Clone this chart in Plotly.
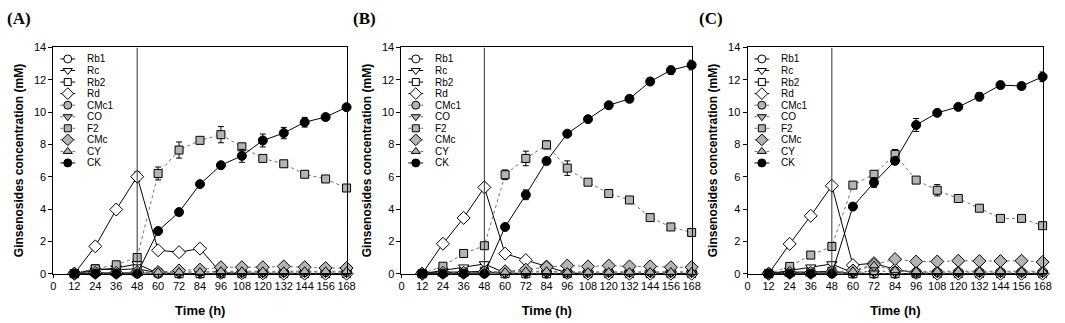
import plotly.graph_objects as go

# ---------------- data ----------------
time_h = [12, 24, 36, 48, 60, 72, 84, 96, 108, 120, 132, 144, 156, 168]
series_names = ["Rb1", "Rc", "Rb2", "Rd", "CMc1", "CO", "F2", "CMc", "CY", "CK"]
panel_labels = ["(A)", "(B)", "(C)"]
x_ticks = [0, 12, 24, 36, 48, 60, 72, 84, 96, 108, 120, 132, 144, 156, 168]
y_ticks = [0, 2, 4, 6, 8, 10, 12, 14]
switch_time = 48

# Panel A
A_Rb1 = [0, 0.05, 0.05, 0.05, 0, 0, 0, 0, 0, 0, 0, 0, 0, 0]
A_Rc = [0, 0.2, 0.35, 0.6, 0.02, 0, 0, 0, 0, 0, 0, 0, 0, 0]
A_Rb2 = [0, 0.3, 0.25, 0.3, 0.05, 0, 0, 0, 0, 0, 0, 0, 0, 0]
A_Rd = [0, 1.69, 3.97, 6.0, 1.45, 1.33, 1.55, 0.05, 0.03, 0.02, 0, 0, 0, 0]
A_CMc1 = [0, 0.05, 0.05, 0.05, 0.1, 0.1, 0.1, 0.1, 0.1, 0.1, 0.1, 0.1, 0.1, 0.1]
A_CO = [0, 0, 0, 0, 0.02, 0.03, 0.03, 0.03, 0.03, 0.03, 0.03, 0.03, 0.03, 0.03]
A_F2 = [0, 0.3, 0.55, 1.0, 6.2, 7.65, 8.25, 8.6, 7.85, 7.13, 6.8, 6.15, 5.86, 5.3]
A_CMc = [0, 0.05, 0.05, 0.1, 0.1, 0.2, 0.25, 0.4, 0.4, 0.4, 0.45, 0.4, 0.35, 0.35]
A_CY = [0, 0.02, 0.02, 0.02, 0.1, 0.1, 0.1, 0.15, 0.15, 0.15, 0.15, 0.15, 0.15, 0.15]
A_CK = [0, 0, 0, 0, 2.64, 3.81, 5.54, 6.71, 7.29, 8.24, 8.7, 9.37, 9.69, 10.3]
A_Rd_err = [0, 0, 0, 0.3, 0, 0, 0, 0, 0, 0, 0, 0, 0, 0]
A_F2_err = [0, 0, 0, 0.2, 0.4, 0.5, 0.1, 0.5, 0.2, 0.1, 0.2, 0.2, 0.2, 0.1]
A_CK_err = [0, 0, 0, 0, 0.1, 0.1, 0.1, 0.1, 0.4, 0.4, 0.35, 0.3, 0.1, 0.1]

# Panel B
B_Rb1 = [0, 0.05, 0.05, 0.05, 0, 0, 0, 0, 0, 0, 0, 0, 0, 0]
B_Rc = [0, 0.2, 0.4, 0.6, 0.05, 0, 0, 0, 0, 0, 0, 0, 0, 0]
B_Rb2 = [0, 0.1, 0.1, 0.15, 0, 0, 0, 0, 0, 0, 0, 0, 0, 0]
B_Rd = [0, 1.85, 3.45, 5.34, 1.24, 0.84, 0.44, 0.05, 0, 0, 0, 0, 0, 0]
B_CMc1 = [0, 0.05, 0.05, 0.05, 0.1, 0.1, 0.1, 0.1, 0.1, 0.1, 0.1, 0.1, 0.1, 0.1]
B_CO = [0, 0, 0, 0, 0.02, 0.03, 0.03, 0.03, 0.03, 0.03, 0.03, 0.03, 0.03, 0.03]
B_F2 = [0, 0.46, 1.25, 1.73, 6.12, 7.13, 7.97, 6.53, 5.66, 4.96, 4.56, 3.47, 2.89, 2.55]
B_CMc = [0, 0.05, 0.05, 0.1, 0.15, 0.25, 0.4, 0.5, 0.45, 0.5, 0.45, 0.45, 0.4, 0.4]
B_CY = [0, 0, 0, 0.05, 0.1, 0.15, 0.15, 0.1, 0.1, 0.1, 0.1, 0.1, 0.1, 0.1]
B_CK = [0, 0, 0, 0, 2.89, 4.88, 6.97, 8.66, 9.56, 10.42, 10.82, 11.89, 12.59, 12.91]
B_Rd_err = [0, 0, 0, 0.2, 0, 0, 0, 0, 0, 0, 0, 0, 0, 0]
B_F2_err = [0, 0, 0, 0.1, 0.3, 0.45, 0.25, 0.45, 0.2, 0.1, 0.15, 0.1, 0.1, 0.1]
B_CK_err = [0, 0, 0, 0, 0.1, 0.3, 0.1, 0.1, 0.1, 0.1, 0.2, 0.2, 0.25, 0.3]

# Panel C
C_Rb1 = [0, 0.05, 0.05, 0.05, 0, 0, 0, 0, 0, 0, 0, 0, 0, 0]
C_Rc = [0, 0.2, 0.4, 0.6, 0.05, 0, 0, 0, 0, 0, 0, 0, 0, 0]
C_Rb2 = [0, 0.1, 0.1, 0.15, 0, 0, 0, 0, 0, 0, 0, 0, 0, 0]
C_Rd = [0, 1.84, 3.58, 5.44, 0.53, 0.65, 0.26, 0.05, 0, 0, 0, 0, 0, 0]
C_CMc1 = [0, 0.05, 0.05, 0.05, 0.1, 0.15, 0.15, 0.1, 0.1, 0.1, 0.1, 0.1, 0.1, 0.1]
C_CO = [0, 0, 0, 0, 0.02, 0.03, 0.03, 0.03, 0.03, 0.03, 0.03, 0.03, 0.03, 0.03]
C_F2 = [0, 0.45, 1.15, 1.68, 5.48, 6.15, 7.38, 5.79, 5.16, 4.65, 4.05, 3.42, 3.42, 2.97]
C_CMc = [0, 0.05, 0.05, 0.1, 0.2, 0.55, 0.9, 0.75, 0.75, 0.8, 0.78, 0.78, 0.8, 0.72]
C_CY = [0, 0, 0, 0.05, 0.15, 0.5, 0.2, 0.15, 0.15, 0.15, 0.15, 0.15, 0.15, 0.15]
C_CK = [0, 0, 0, 0, 4.15, 5.64, 6.98, 9.2, 9.95, 10.32, 10.95, 11.67, 11.61, 12.18]
C_Rd_err = [0, 0, 0, 0.15, 0, 0, 0, 0, 0, 0, 0, 0, 0, 0]
C_F2_err = [0, 0, 0, 0.1, 0.1, 0.2, 0.3, 0.1, 0.35, 0.1, 0.1, 0.1, 0.1, 0.1]
C_CK_err = [0, 0, 0, 0, 0.1, 0.3, 0.1, 0.4, 0.15, 0.15, 0.25, 0.2, 0.2, 0.3]

panels = [
    {"Rb1": A_Rb1, "Rc": A_Rc, "Rb2": A_Rb2, "Rd": A_Rd, "CMc1": A_CMc1, "CO": A_CO,
     "F2": A_F2, "CMc": A_CMc, "CY": A_CY, "CK": A_CK},
    {"Rb1": B_Rb1, "Rc": B_Rc, "Rb2": B_Rb2, "Rd": B_Rd, "CMc1": B_CMc1, "CO": B_CO,
     "F2": B_F2, "CMc": B_CMc, "CY": B_CY, "CK": B_CK},
    {"Rb1": C_Rb1, "Rc": C_Rc, "Rb2": C_Rb2, "Rd": C_Rd, "CMc1": C_CMc1, "CO": C_CO,
     "F2": C_F2, "CMc": C_CMc, "CY": C_CY, "CK": C_CK},
]
panel_errs = [
    {"Rd": A_Rd_err, "F2": A_F2_err, "CK": A_CK_err},
    {"Rd": B_Rd_err, "F2": B_F2_err, "CK": B_CK_err},
    {"Rd": C_Rd_err, "F2": C_F2_err, "CK": C_CK_err},
]

# ---------------- styles ----------------
GRAY = "#b4b4b4"
styles = {
    "Rb1": dict(symbol="circle", fill="white", dash="solid", lc="black"),
    "Rc": dict(symbol="triangle-down", fill="white", dash="solid", lc="black"),
    "Rb2": dict(symbol="square", fill="white", dash="solid", lc="black"),
    "Rd": dict(symbol="diamond", fill="white", dash="solid", lc="black"),
    "CMc1": dict(symbol="circle", fill=GRAY, dash="dot", lc="#707070"),
    "CO": dict(symbol="triangle-down", fill=GRAY, dash="dot", lc="#707070"),
    "F2": dict(symbol="square", fill=GRAY, dash="dot", lc="#707070"),
    "CMc": dict(symbol="diamond", fill=GRAY, dash="dot", lc="#707070"),
    "CY": dict(symbol="triangle-up", fill=GRAY, dash="dot", lc="#707070"),
    "CK": dict(symbol="circle", fill="black", dash="solid", lc="black"),
}
sizes = {"circle": 9, "triangle-down": 9, "triangle-up": 9, "square": 8, "diamond": 10}

W, H = 1065, 323
panel_px = [(51, 348), (403, 697), (753, 1052)]
y_px = (43, 278)
label_px = [2, 352, 702]
FONT = "Liberation Sans, Arial, sans-serif"

fig = go.Figure()
layout = dict(
    width=W, height=H, margin=dict(l=0, r=0, t=0, b=0),
    paper_bgcolor="white", plot_bgcolor="rgba(0,0,0,0)", showlegend=False,
    font=dict(family=FONT, color="black", size=11),
    annotations=[], shapes=[],
)

ydom = [1 - y_px[1] / H, 1 - y_px[0] / H]
for p, (data, errs) in enumerate(zip(panels, panel_errs)):
    n = p + 1
    xa = "x" if n == 1 else f"x{n}"
    ya = "y" if n == 1 else f"y{n}"
    xdom = [panel_px[p][0] / W, panel_px[p][1] / W]
    axis_common = dict(showline=True, linecolor="black", linewidth=1, mirror=True,
                       ticks="outside", tickcolor="black", showgrid=False,
                       zeroline=False, tickfont=dict(family=FONT, size=11, color="black"))
    layout["xaxis" if n == 1 else f"xaxis{n}"] = dict(
        domain=xdom, range=[0, 168.3], tickmode="array", tickvals=x_ticks, ticklen=3,
        ticklabelstandoff=-1,
        anchor=ya, title=dict(text="<b>Time (h)</b>", font=dict(family=FONT, size=13), standoff=15),
        **axis_common)
    layout["yaxis" if n == 1 else f"yaxis{n}"] = dict(
        domain=ydom, range=[0, 14], tickmode="array", tickvals=y_ticks, ticklen=4,
        anchor=xa, title=dict(text="<b>Ginsenosides concentration (mM)</b>",
                              font=dict(family=FONT, size=12), standoff=7),
        **axis_common)

    # vertical line at switch time
    layout["shapes"].append(dict(type="line", xref=xa, yref=ya, x0=switch_time, x1=switch_time,
                                 y0=0, y1=14, line=dict(color="#333333", width=1)))

    for name in series_names:
        st = styles[name]
        err = errs.get(name)
        fig.add_trace(go.Scatter(
            x=time_h, y=data[name], mode="lines+markers", name=name, xaxis=xa, yaxis=ya,
            cliponaxis=False,
            line=dict(color=st["lc"], width=1, dash=st["dash"]),
            marker=dict(symbol=st["symbol"], size=sizes[st["symbol"]], color=st["fill"],
                        line=dict(color="black", width=1)),
            error_y=dict(type="data", array=err, visible=err is not None, color="black",
                         thickness=1, width=3),
        ))

    # custom compact legend in a pixel-scaled overlay axis
    lx = f"x{n + 3}"
    ly = f"y{n + 3}"
    pw = panel_px[p][1] - panel_px[p][0]
    ph = y_px[1] - y_px[0]
    layout[f"xaxis{n + 3}"] = dict(overlaying=xa, range=[0, pw], visible=False, anchor=ly, fixedrange=True)
    layout[f"yaxis{n + 3}"] = dict(overlaying=ya, range=[0, ph], visible=False, anchor=lx, fixedrange=True)
    for i, name in enumerate(series_names):
        st = styles[name]
        yy = ph - 12 - 12 * i
        fig.add_trace(go.Scatter(
            x=[7, 22], y=[yy, yy], mode="lines", xaxis=lx, yaxis=ly, hoverinfo="skip",
            line=dict(color=st["lc"], width=1, dash=st["dash"]), cliponaxis=False))
        fig.add_trace(go.Scatter(
            x=[14.5], y=[yy], mode="markers", xaxis=lx, yaxis=ly, hoverinfo="skip", cliponaxis=False,
            marker=dict(symbol=st["symbol"], size=sizes[st["symbol"]] - 1, color=st["fill"],
                        line=dict(color="black", width=1))))
        layout["annotations"].append(dict(
            x=32, y=yy, xref=lx, yref=ly, text=name, showarrow=False, xanchor="left",
            yanchor="middle", font=dict(family=FONT, size=10, color="black")))

    layout["annotations"].append(dict(
        x=label_px[p] / W, y=1 - 13 / H, xref="paper", yref="paper", text=f"<b>{panel_labels[p]}</b>",
        showarrow=False, xanchor="left", yanchor="middle",
        font=dict(family="Liberation Serif, Times New Roman, serif", size=17, color="black")))

fig.update_layout(**layout)
fig.write_html("out.html", config={"displayModeBar": False},
               post_script="document.body.style.margin='0';document.body.style.overflow='hidden';")
